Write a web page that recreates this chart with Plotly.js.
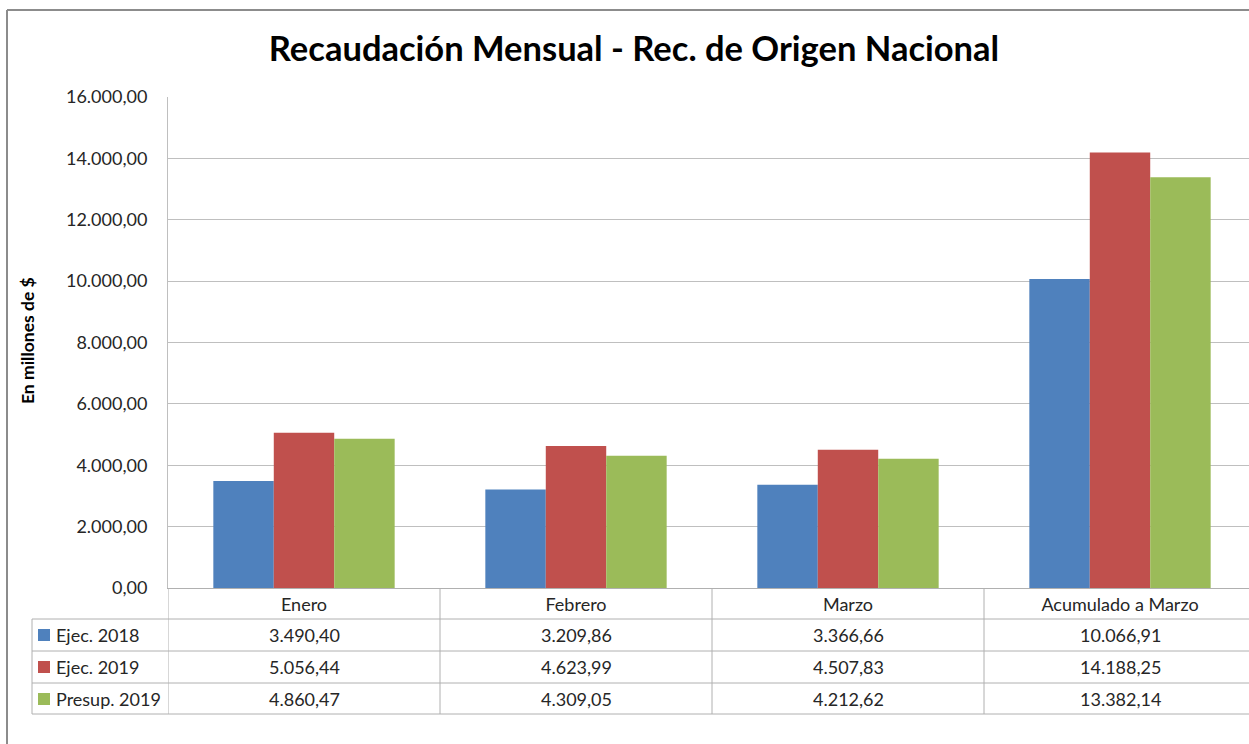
<!DOCTYPE html>
<html>
<head>
<meta charset="utf-8">
<script src="https://cdn.plot.ly/plotly-3.0.1.min.js"></script>
<style>html,body{margin:0;padding:0;background:#fff;}</style>
</head>
<body>
<div id="chart" style="width:1249px;height:744px;"></div>
<script>
const categories = ['Enero', 'Febrero', 'Marzo', 'Acumulado a Marzo'];
const ejec2018 = [3490.40, 3209.86, 3366.66, 10066.91];
const ejec2019 = [5056.44, 4623.99, 4507.83, 14188.25];
const presup2019 = [4860.47, 4309.05, 4212.62, 13382.14];
const seriesNames = ['Ejec. 2018', 'Ejec. 2019', 'Presup. 2019'];
const seriesColors = ['#4F81BD', '#C0504D', '#9BBB59'];
const yTickValues = [0, 2000, 4000, 6000, 8000, 10000, 12000, 14000, 16000];
const titleText = 'Recaudación Mensual - Rec. de Origen Nacional';
const yTitleText = 'En millones de $';

const seriesValues = [ejec2018, ejec2019, presup2019];

function fmt(v) {
  const s = v.toFixed(2);
  let [ip, dp] = s.split('.');
  ip = ip.replace(/\B(?=(\d{3})+(?!\d))/g, '.');
  return ip + ',' + dp;
}

const W = 1249, H = 744;
const L = 168, R = 0, T = 97, B = 156;
const plotW = W - L - R, plotH = H - T - B;
const px = x => (x - L) / plotW;
const py = y => (H - B - y) / plotH;

const FONT = 'Lato, "Open Sans", sans-serif';
const GRID = '#bfbfbf';
const TABLE = '#b0b0b0';

const traces = seriesValues.map((vals, i) => ({
  type: 'bar',
  x: categories,
  y: vals,
  name: seriesNames[i],
  marker: {color: seriesColors[i]},
  hoverinfo: 'x+y+name'
}));

const shapes = [];
const annotations = [];

// outer chart border
shapes.push({type: 'line', xref: 'paper', yref: 'paper', x0: px(7), x1: px(7), y0: py(10), y1: py(760), line: {color: '#8c8c8c', width: 2}});
shapes.push({type: 'line', xref: 'paper', yref: 'paper', x0: px(7), x1: px(1270), y0: py(10), y1: py(10), line: {color: '#8c8c8c', width: 2}});

// table horizontal lines
const rowLines = [619, 651, 683, 714];
rowLines.forEach(y => {
  shapes.push({type: 'line', xref: 'paper', yref: 'paper', x0: px(32), x1: px(1260), y0: py(y), y1: py(y), line: {color: TABLE, width: 1}});
});
// table left edge
shapes.push({type: 'line', xref: 'paper', yref: 'paper', x0: px(32), x1: px(32), y0: py(619), y1: py(714), line: {color: TABLE, width: 1}});
// category separators
for (let i = 0; i < categories.length; i++) {
  shapes.push({type: 'line', xref: 'x', yref: 'paper', x0: i - 0.5, x1: i - 0.5, y0: py(588), y1: py(714), line: {color: TABLE, width: 1}});
}

// table rows
const rowCenters = [635, 667, 699];
seriesValues.forEach((vals, r) => {
  const yc = rowCenters[r];
  shapes.push({type: 'rect', xref: 'paper', yref: 'paper', x0: px(38), x1: px(50), y0: py(yc - 6), y1: py(yc + 6), fillcolor: seriesColors[r], line: {width: 0}});
  annotations.push({xref: 'paper', yref: 'paper', x: px(54), y: py(yc), xanchor: 'left', yanchor: 'middle', text: seriesNames[r], showarrow: false, font: {family: FONT, size: 18, color: '#262626'}});
  vals.forEach((v, c) => {
    annotations.push({xref: 'x', yref: 'paper', x: c, y: py(yc), xanchor: 'center', yanchor: 'middle', text: fmt(v), showarrow: false, font: {family: FONT, size: 18, color: '#262626'}});
  });
});

// y axis title
annotations.push({xref: 'paper', yref: 'paper', x: px(27), y: py(341), xanchor: 'center', yanchor: 'middle', textangle: -90, text: '<b>' + yTitleText + '</b>', showarrow: false, font: {family: FONT, size: 17.5, color: '#000'}});

const layout = {
  width: W, height: H,
  margin: {l: L, r: R, t: T, b: B, pad: 0},
  paper_bgcolor: '#fff', plot_bgcolor: '#fff',
  separators: ',.',
  showlegend: false,
  barmode: 'group',
  bargap: 0.3333,
  bargroupgap: 0,
  title: {text: '<b>' + titleText + '</b>', x: 634 / W, xref: 'container', xanchor: 'center', y: 1 - 49 / H, yref: 'container', yanchor: 'middle', font: {family: FONT, size: 34.5, color: '#000'}},
  xaxis: {
    type: 'category', range: [-0.5, -0.5 + plotW / 272],
    showgrid: false, zeroline: false,
    showline: true, linecolor: TABLE, linewidth: 1,
    ticks: '', ticklabelstandoff: 0,
    tickfont: {family: FONT, size: 18, color: '#262626'}
  },
  yaxis: {
    range: [0, 16000], tickvals: yTickValues, tickformat: ',.2f',
    showgrid: true, gridcolor: GRID, gridwidth: 1, zeroline: false,
    showline: true, linecolor: GRID, linewidth: 1,
    ticks: '', ticklabelstandoff: 16,
    tickfont: {family: FONT, size: 18, color: '#262626'}
  },
  shapes: shapes,
  annotations: annotations
};

Plotly.newPlot('chart', traces, layout, {displayModeBar: false, staticPlot: true});
</script>
</body>
</html>
